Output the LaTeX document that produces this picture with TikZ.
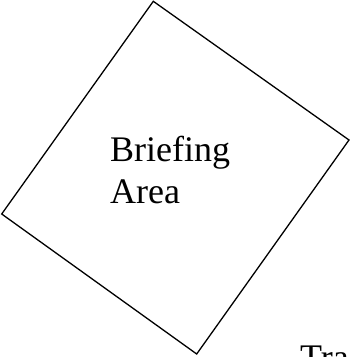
\documentclass[tikz,border=0pt]{standalone}
\usepackage{fontspec}
\setmainfont{Liberation Serif}
\begin{document}
\begin{tikzpicture}[x=1pt,y=-1pt,
  area/.style={draw=black,line width=1.3pt,line join=miter},
  lbl/.style={anchor=base west,inner sep=0pt,font=\fontsize{36}{42}\selectfont}]
\useasboundingbox (0,0) rectangle (350,357);
\clip (0,0) rectangle (350,357);
\coordinate (t) at (153.3,1.3);
\coordinate (r) at (349,140);
\coordinate (b) at (196.7,354);
\coordinate (l) at (1.7,214);
\draw[area] (t) -- (r) -- (b) -- (l) -- cycle;
\node[lbl] (brief) at (110,161) {Briefing};
\node[lbl] (area) at (110,203) {Area};
\node[lbl] (tra) at (300,369) {Tra};
\end{tikzpicture}
\end{document}
